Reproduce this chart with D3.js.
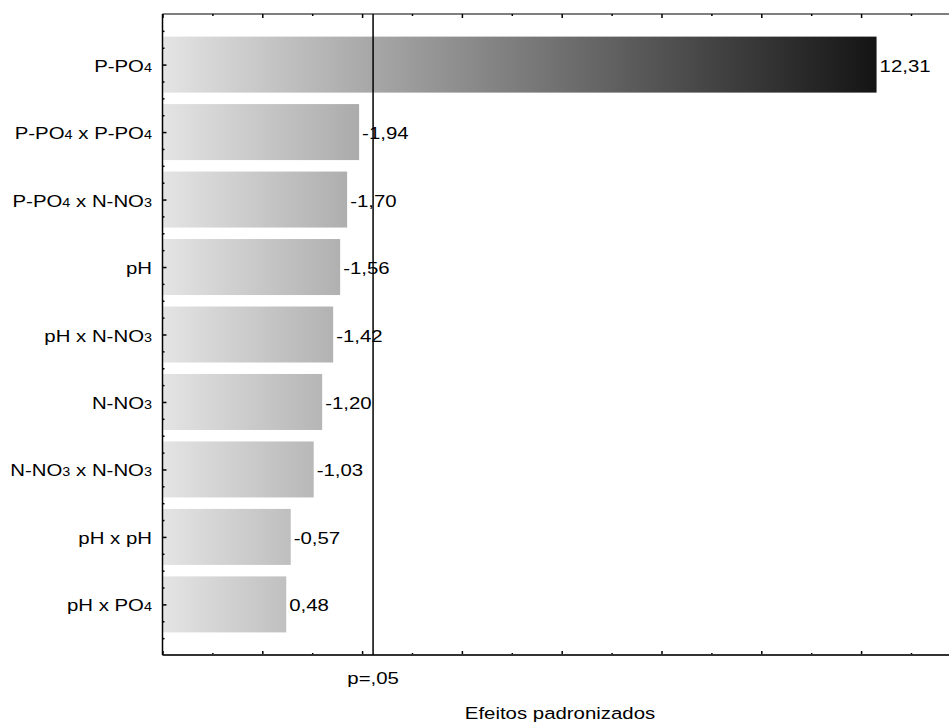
<!DOCTYPE html>
<meta charset="utf-8">
<html>
  <head>
    <script src="https://d3js.org/d3.v7.min.js"></script>
    <style>
      body { margin: 0; background: #fff; }
      text { font-family: "Liberation Sans", Arial, sans-serif; fill: #000; }
    </style>
  </head>
  <body>
    <div id="chart"></div>

    <script type="text/javascript">
      // effects (Pareto chart), top to bottom
      var factors = ["P-PO4", "P-PO4 x P-PO4", "P-PO4 x N-NO3", "pH", "pH x N-NO3",
                     "N-NO3", "N-NO3 x N-NO3", "pH x pH", "pH x PO4"];
      var effects = [12.31, -1.94, -1.70, -1.56, -1.42, -1.20, -1.03, -0.57, 0.48];
      var pCritical = 2.22;
      var pLabel = "p=,05";
      var xTitle = "Efeitos padronizados";

      var width = 949,
          height = 724,
          plotTop = 14,
          plotBottom = 655,
          fontSize = 17,
          subSize = 12,
          stretch = 1.2; // text in the original is wider than it is tall

      var x = d3.scaleLinear().domain([-2, 14]).range([162.5, 162.5 + 16 * 49.9]);
      var y = d3.scaleLinear().domain([-0.75, factors.length - 0.25]).range([plotTop, plotBottom]);

      var fmt = d3.formatLocale({ decimal: ",", thousands: ".", grouping: [3], currency: ["", ""], minus: "-" }).format(".2f");

      var svg = d3.select("#chart").append("svg")
          .attr("width", width)
          .attr("height", height);

      var grad = svg.append("defs").append("linearGradient")
          .attr("id", "barGrad")
          .attr("gradientUnits", "userSpaceOnUse")
          .attr("x1", x(-2)).attr("x2", x(d3.max(effects, Math.abs)))
          .attr("y1", 0).attr("y2", 0);
      grad.append("stop").attr("offset", "0%").attr("stop-color", "#e4e4e4");
      grad.append("stop").attr("offset", "100%").attr("stop-color", "#141414");

      var half = 0.415;

      svg.selectAll(".bar")
          .data(effects)
          .enter().append("rect")
            .attr("class", "bar")
            .attr("x", x(-2))
            .attr("y", function(d, i) { return y(i - half); })
            .attr("width", function(d) { return x(Math.abs(d)) - x(-2); })
            .attr("height", function(d, i) { return y(i + half) - y(i - half); })
            .style("fill", "url(#barGrad)");

      // category labels with subscript digits
      var labels = svg.selectAll(".catLabel")
          .data(factors)
          .enter().append("text")
            .attr("class", "catLabel")
            .attr("text-anchor", "end")
            .style("font-size", fontSize + "px")
            .attr("transform", function(d, i) { return "translate(152," + (y(i) + 7) + ") scale(" + stretch + ",1)"; });

      labels.each(function(d) {
        var t = d3.select(this);
        d.split(/(\d)/).forEach(function(part) {
          if (part === "") return;
          t.append("tspan")
            .style("font-size", (/^\d$/.test(part) ? subSize : fontSize) + "px")
            .text(part);
        });
      });

      // value labels
      svg.selectAll(".valLabel")
          .data(effects)
          .enter().append("text")
            .attr("class", "valLabel")
            .style("font-size", fontSize + "px")
            .attr("transform", function(d, i) { return "translate(" + (x(Math.abs(d)) + 3) + "," + (y(i) + 7) + ") scale(" + stretch + ",1)"; })
            .text(function(d) { return fmt(d); });

      // axes
      var majorX = d3.range(-2, 15, 2),
          minorX = d3.range(-1, 15, 2);

      function ticks(g) {
        g.select(".domain").remove();
        g.selectAll(".tick text").remove();
        g.selectAll(".tick line").style("stroke", "#000").style("stroke-width", "1.5px");
      }

      svg.append("g").attr("transform", "translate(0," + plotBottom + ")")
          .call(d3.axisBottom(x).tickValues(majorX).tickSize(-4).tickFormat("")).call(ticks);
      svg.append("g").attr("transform", "translate(0," + plotBottom + ")")
          .call(d3.axisBottom(x).tickValues(minorX).tickSize(-2).tickFormat("")).call(ticks);
      svg.append("g").attr("transform", "translate(0," + plotTop + ")")
          .call(d3.axisTop(x).tickValues(majorX).tickSize(-4).tickFormat("")).call(ticks);
      svg.append("g").attr("transform", "translate(0," + plotTop + ")")
          .call(d3.axisTop(x).tickValues(minorX).tickSize(-2).tickFormat("")).call(ticks);

      var majorY = d3.range(0, factors.length),
          minorY = d3.range(-0.5, factors.length - 0.25, 0.25).filter(function(v) { return v % 1 !== 0; });

      svg.append("g").attr("transform", "translate(" + x(-2) + ",0)")
          .call(d3.axisRight(y).tickValues(majorY).tickSize(4).tickFormat("")).call(ticks);
      svg.append("g").attr("transform", "translate(" + x(-2) + ",0)")
          .call(d3.axisRight(y).tickValues(minorY).tickSize(2).tickFormat("")).call(ticks);

      // frame lines
      svg.append("line")
          .attr("x1", x(-2)).attr("x2", width).attr("y1", plotTop).attr("y2", plotTop)
          .style("stroke", "#000").style("stroke-width", "1.2px");
      svg.append("line")
          .attr("x1", x(-2)).attr("x2", width).attr("y1", plotBottom).attr("y2", plotBottom)
          .style("stroke", "#333").style("stroke-width", "2px");
      svg.append("line")
          .attr("x1", x(-2)).attr("x2", x(-2)).attr("y1", plotTop).attr("y2", plotBottom)
          .style("stroke", "#000").style("stroke-width", "1.5px");

      // significance line
      svg.append("line")
          .attr("x1", x(pCritical)).attr("x2", x(pCritical)).attr("y1", plotTop).attr("y2", plotBottom)
          .style("stroke", "#000").style("stroke-width", "1.5px");

      svg.append("text")
          .attr("text-anchor", "middle")
          .style("font-size", fontSize + "px")
          .attr("transform", "translate(" + x(pCritical) + ",684) scale(" + stretch + ",1)")
          .text(pLabel);

      svg.append("text")
          .attr("text-anchor", "middle")
          .style("font-size", fontSize + "px")
          .attr("transform", "translate(560,719) scale(" + stretch + ",1)")
          .text(xTitle);
    </script>
  </body>
</html>
